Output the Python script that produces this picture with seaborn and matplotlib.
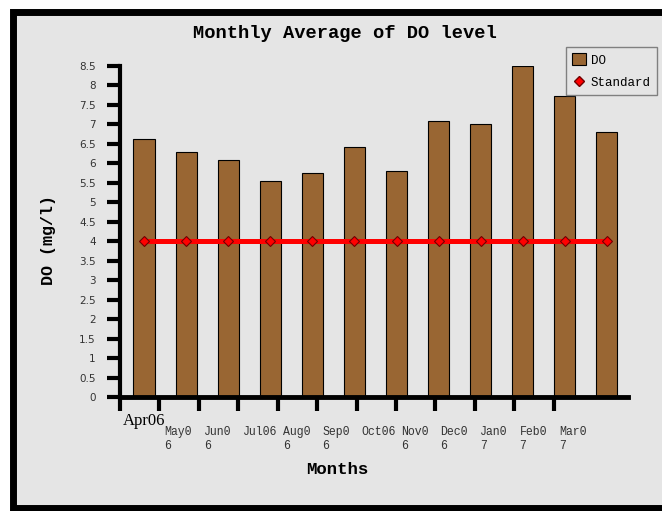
import seaborn as sns
import matplotlib.pyplot as plt
import matplotlib.transforms as mtransforms
from matplotlib.patches import Rectangle, Patch
from matplotlib.lines import Line2D
import numpy as np
import pandas as pd

# Monthly DO values (mg/l)
months = ["Apr06", "May06", "Jun06", "Jul06", "Aug06", "Sep06",
          "Oct06", "Nov06", "Dec06", "Jan07", "Feb07", "Mar07"]
do_level = [6.63, 6.30, 6.09, 5.55, 5.74, 6.41, 5.81, 7.08, 7.01, 8.50, 7.72, 6.81]
standard = [4, 4, 4, 4, 4, 4, 4, 4, 4, 4, 4, 4]
month_labels = ["Apr06", "May0\n6", "Jun0\n6", "Jul06", "Aug0\n6", "Sep0\n6",
                "Oct06", "Nov0\n6", "Dec0\n6", "Jan0\n7", "Feb0\n7", "Mar0\n7"]
y_ticks = np.arange(0, 8.51, 0.5)

df = pd.DataFrame({"Month": months, "DO": do_level, "Standard": standard})

bg = "#e5e5e5"
brown = "#996633"
mono = "Liberation Mono"

fig = plt.figure(figsize=(6.62, 5.11), dpi=100, facecolor="white")
# grey chart area with thick black frame (cut off on the right)
fig.add_artist(Rectangle((13 / 662, 3 / 511), 1.1, 1 - 11.5 / 511 - 3 / 511,
                         transform=fig.transFigure, facecolor=bg,
                         edgecolor="black", linewidth=5, zorder=-10))

ax = fig.add_axes([120 / 662, 1 - 397 / 511, 508 / 662, 331 / 511])
ax.set_facecolor("none")

sns.barplot(data=df, x="Month", y="DO", color=brown, width=0.5,
            edgecolor="black", linewidth=0.8, saturation=1, ax=ax, zorder=2)
ax.plot(np.arange(len(months)), df["Standard"], color="red", linewidth=3.6,
        marker="D", markersize=5, markerfacecolor="red",
        markeredgecolor="#700000", markeredgewidth=0.8, zorder=3)

ax.set_xlim(-0.5, len(months) - 0.5)
ax.set_ylim(0, 8.5)
ax.set_yticks(y_ticks)
ax.set_yticklabels([f"{t:g}" for t in y_ticks], fontsize=7.5, color="#333333")
ax.tick_params(axis="y", length=9.5, width=3, pad=8, color="black")

# the x tick marks and labels sit on a slightly tighter spacing than the bars
tick_pos = -0.57 + 0.937 * np.arange(len(months))
ax.set_xticks(tick_pos)
ax.set_xticklabels([])
ax.tick_params(axis="x", which="major", length=10, width=3, color="black")
ax.set_xticks(tick_pos + 0.12, minor=True)
ax.set_xticklabels(month_labels, minor=True, family=mono, fontsize=8.3,
                   color="#333333", ha="left", va="top", linespacing=1.15)
ax.tick_params(axis="x", which="minor", length=0, pad=21)

lab0 = ax.get_xticklabels(minor=True)[0]
lab0.set_fontfamily("Liberation Serif")
lab0.set_fontsize(12)
lab0.set_color("black")
lab0.set_transform(lab0.get_transform() +
                   mtransforms.ScaledTranslation(-2 / 100, 13 / 100, fig.dpi_scale_trans))

for side in ["top", "right"]:
    ax.spines[side].set_visible(False)
ax.spines["left"].set_linewidth(3)
ax.spines["bottom"].set_linewidth(3.5)
ax.set_xlabel("")
ax.set_ylabel("")

fig.text(345 / 662, 1 - 34 / 511, "Monthly Average of DO level", family=mono,
         fontweight="bold", fontsize=13.5, ha="center", va="center")
fig.text(337 / 662, 1 - 469 / 511, "Months", family=mono, fontweight="bold",
         fontsize=12.5, ha="center", va="center")
fig.text(48 / 662, 1 - 240 / 511, "DO (mg/l)", family=mono, fontweight="bold",
         fontsize=12, ha="center", va="center", rotation=90)

handles = [Patch(facecolor=brown, edgecolor="black", linewidth=0.8),
           Line2D([], [], linestyle="none", marker="D", markersize=5,
                  markerfacecolor="red", markeredgecolor="#700000")]
leg = fig.legend(handles, ["DO", "Standard"], loc="upper left",
                 bbox_to_anchor=(566 / 662, 1 - 47 / 511),
                 bbox_transform=fig.transFigure, borderaxespad=0,
                 prop={"family": mono, "size": 9}, fancybox=False,
                 framealpha=1, facecolor=bg, edgecolor="#808080",
                 handlelength=1.1, handleheight=1.1, handletextpad=0.4,
                 borderpad=0.5, labelspacing=0.75)

fig.savefig("out.png", dpi=100, facecolor="white")
